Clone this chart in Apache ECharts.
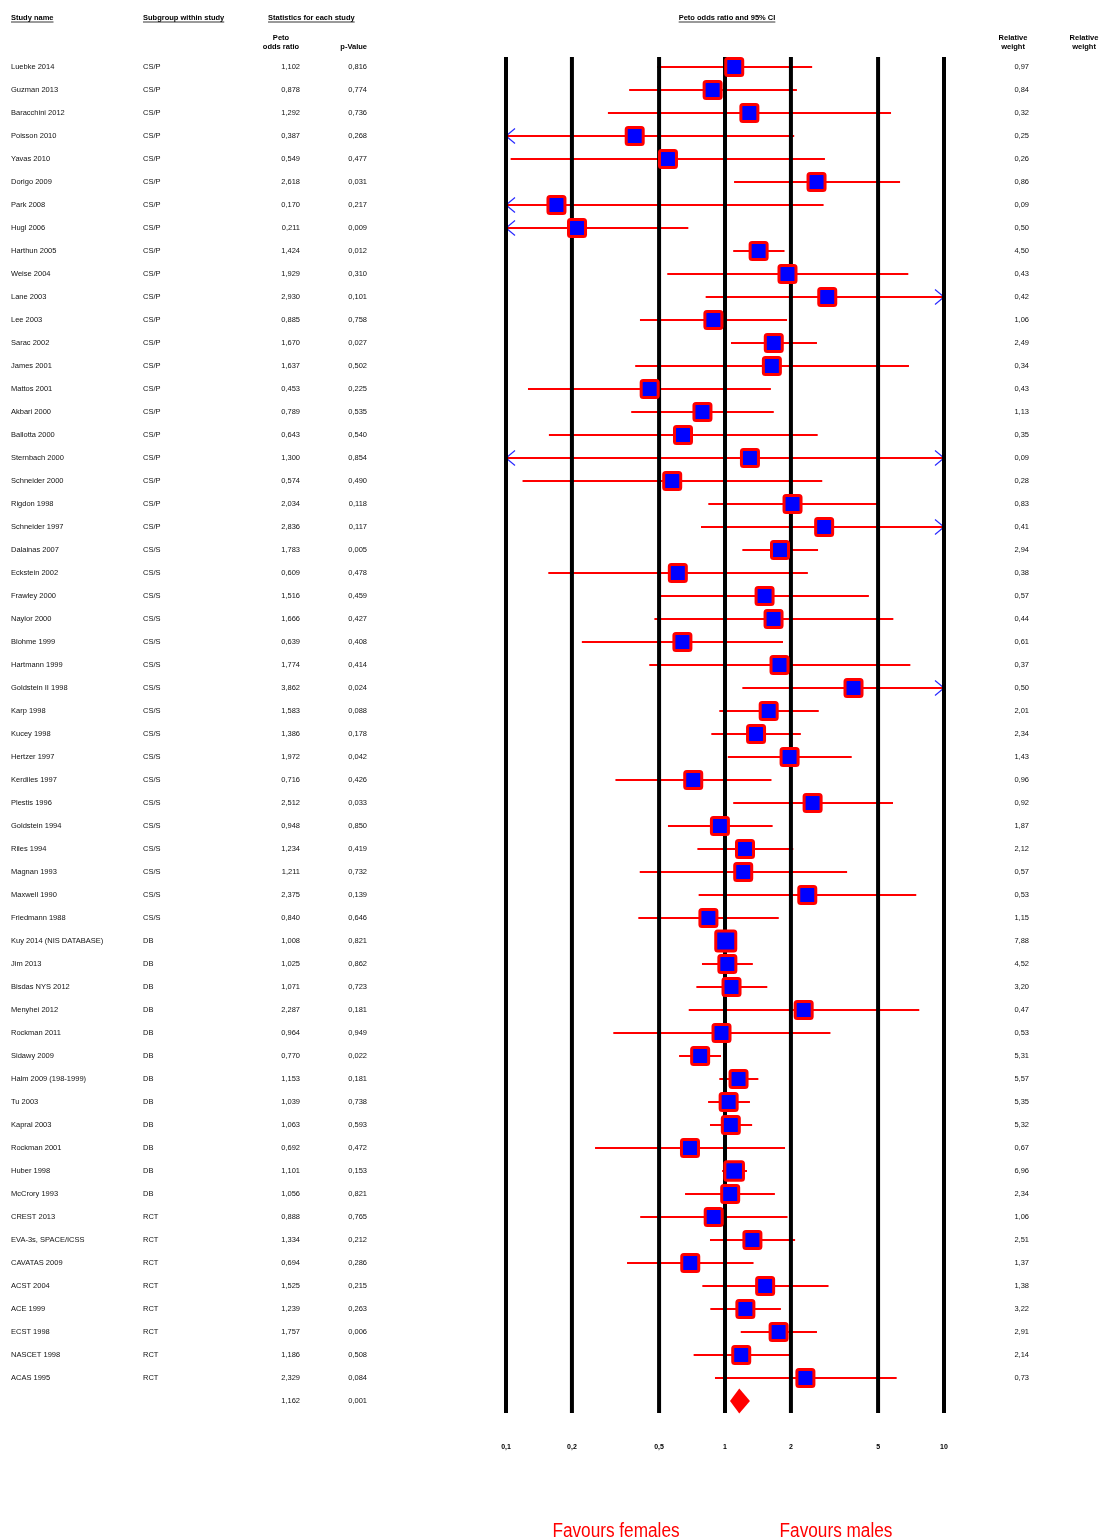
<!DOCTYPE html>
<html><head><meta charset="utf-8">
<script src="https://cdn.jsdelivr.net/npm/echarts@6/dist/echarts.min.js"></script>
<style>html,body{margin:0;padding:0;background:#fff}#c{width:1105px;height:1540px}</style>
</head><body><div id="c"></div>
<script>
const studies = ["Luebke 2014","Guzman 2013","Baracchini 2012","Poisson 2010","Yavas 2010","Dorigo 2009","Park 2008","Hugl 2006","Harthun 2005","Weise 2004","Lane 2003","Lee 2003","Sarac 2002","James 2001","Mattos 2001","Akbari 2000","Ballotta 2000","Sternbach 2000","Schneider 2000","Rigdon 1998","Schneider 1997","Dalainas 2007","Eckstein 2002","Frawley 2000","Naylor 2000","Blohme 1999","Hartmann 1999","Goldstein II 1998","Karp 1998","Kucey 1998","Hertzer 1997","Kerdiles 1997","Plestis 1996","Goldstein 1994","Riles 1994","Magnan 1993","Maxwell 1990","Friedmann 1988","Kuy 2014 (NIS DATABASE)","Jim 2013","Bisdas NYS 2012","Menyhei 2012","Rockman 2011","Sidawy 2009","Halm 2009 (198-1999)","Tu 2003","Kapral 2003","Rockman 2001","Huber 1998","McCrory 1993","CREST 2013","EVA-3s, SPACE/ICSS","CAVATAS 2009","ACST 2004","ACE 1999","ECST 1998","NASCET 1998","ACAS 1995"];
const subgroups = ["CS/P","CS/P","CS/P","CS/P","CS/P","CS/P","CS/P","CS/P","CS/P","CS/P","CS/P","CS/P","CS/P","CS/P","CS/P","CS/P","CS/P","CS/P","CS/P","CS/P","CS/P",
"CS/S","CS/S","CS/S","CS/S","CS/S","CS/S","CS/S","CS/S","CS/S","CS/S","CS/S","CS/S","CS/S","CS/S","CS/S","CS/S","CS/S",
"DB","DB","DB","DB","DB","DB","DB","DB","DB","DB","DB","DB",
"RCT","RCT","RCT","RCT","RCT","RCT","RCT","RCT"];
const orVals = [1.102,0.878,1.292,0.387,0.549,2.618,0.170,0.211,1.424,1.929,2.930,0.885,1.670,1.637,0.453,0.789,0.643,1.300,0.574,2.034,2.836,1.783,0.609,1.516,1.666,0.639,1.774,3.862,1.583,1.386,1.972,0.716,2.512,0.948,1.234,1.211,2.375,0.840,1.008,1.025,1.071,2.287,0.964,0.770,1.153,1.039,1.063,0.692,1.101,1.056,0.888,1.334,0.694,1.525,1.239,1.757,1.186,2.329];
const pVals = [0.816,0.774,0.736,0.268,0.477,0.031,0.217,0.009,0.012,0.310,0.101,0.758,0.027,0.502,0.225,0.535,0.540,0.854,0.490,0.118,0.117,0.005,0.478,0.459,0.427,0.408,0.414,0.024,0.088,0.178,0.042,0.426,0.033,0.850,0.419,0.732,0.139,0.646,0.821,0.862,0.723,0.181,0.949,0.022,0.181,0.738,0.593,0.472,0.153,0.821,0.765,0.212,0.286,0.215,0.263,0.006,0.508,0.084];
const lowCI = [0.49,0.365,0.292,0.072,0.105,1.10,0.010,0.066,1.09,0.545,0.816,0.409,1.065,0.389,0.126,0.373,0.157,0.079,0.119,0.839,0.777,1.20,0.156,0.507,0.476,0.222,0.451,1.20,0.942,0.866,1.03,0.316,1.09,0.549,0.748,0.408,0.758,0.402,0.94,0.785,0.740,0.683,0.309,0.617,0.942,0.837,0.854,0.255,0.97,0.657,0.410,0.854,0.357,0.788,0.857,1.18,0.719,0.900];
const highCI = [2.50,2.13,5.73,2.07,2.86,6.30,2.82,0.68,1.87,6.87,10.6,1.92,2.63,6.92,1.62,1.67,2.65,21.4,2.78,4.94,10.4,2.66,2.39,4.54,5.87,1.84,7.02,12.5,2.68,2.22,3.79,1.63,5.85,1.65,2.05,3.61,7.47,1.76,1.08,1.34,1.56,7.71,3.03,0.959,1.42,1.30,1.33,1.88,1.26,1.69,1.93,2.09,1.35,2.97,1.80,2.63,1.97,6.08];
const weights = [0.97,0.84,0.32,0.25,0.26,0.86,0.09,0.50,4.50,0.43,0.42,1.06,2.49,0.34,0.43,1.13,0.35,0.09,0.28,0.83,0.41,2.94,0.38,0.57,0.44,0.61,0.37,0.50,2.01,2.34,1.43,0.96,0.92,1.87,2.12,0.57,0.53,1.15,7.88,4.52,3.20,0.47,0.53,5.31,5.57,5.35,5.32,0.67,6.96,2.34,1.06,2.51,1.37,1.38,3.22,2.91,2.14,0.73];
const summaryOR = 1.162, summaryP = 0.001, summaryLow = 1.054, summaryHigh = 1.30;
const tickValues = [0.1, 0.2, 0.5, 1, 2, 5, 10];
const tickLabels = ["0,1", "0,2", "0,5", "1", "2", "5", "10"];

const FONT = '"Liberation Sans", Arial, Helvetica, sans-serif';
const SMALL = '7.5px ' + FONT;
const BOLD = 'bold 7.5px ' + FONT;
const nRows = studies.length;
const fmt3 = v => v.toFixed(3).replace('.', ',');
const fmt2 = v => v.toFixed(2).replace('.', ',');

const chart = echarts.init(document.getElementById('c'), null, {renderer: 'canvas'});

const measure = (txt, font) => { const c = document.createElement('canvas').getContext('2d'); c.font = font; return c.measureText(txt).width; };

function T(text, x, y, font, align, extra) {
  return Object.assign({type: 'text', x: x, y: y, silent: true,
    style: {text: text, x: 0, y: 0, font: font, fill: '#000', textAlign: align, align: align, textVerticalAlign: 'middle', verticalAlign: 'middle'}}, extra || {});
}
function U(text, x, y, font, align) {
  const w = measure(text, font);
  let x0 = align === 'center' ? x - w / 2 : (align === 'right' ? x - w : x);
  return {type: 'line', silent: true, shape: {x1: x0, y1: y + 4, x2: x0 + w, y2: y + 4}, style: {stroke: '#000', lineWidth: 0.8}};
}
const graphics = [
  T('Study name', 11, 18, BOLD, 'left'), U('Study name', 11, 18, BOLD, 'left'),
  T('Subgroup within study', 143, 18, BOLD, 'left'), U('Subgroup within study', 143, 18, BOLD, 'left'),
  T('Statistics for each study', 268, 18, BOLD, 'left'), U('Statistics for each study', 268, 18, BOLD, 'left'),
  T('Peto odds ratio and 95% CI', 727, 18, BOLD, 'center'), U('Peto odds ratio and 95% CI', 727, 18, BOLD, 'center'),
  T('Peto', 281, 38, BOLD, 'center'), T('odds ratio', 281, 47, BOLD, 'center'),
  T('p-Value', 367, 47, BOLD, 'right'),
  T('Relative', 1013, 38, BOLD, 'center'), T('weight', 1013, 47, BOLD, 'center'),
  T('Relative', 1084, 38, BOLD, 'center'), T('weight', 1084, 47, BOLD, 'center'),
  {type: 'text', x: 616, y: 1531, scaleX: 0.86, silent: true, style: {text: 'Favours females', x: 0, y: 0, font: '20px ' + FONT, fill: '#ff0000', textAlign: 'center', align: 'center', textVerticalAlign: 'middle', verticalAlign: 'middle'}},
  {type: 'text', x: 836, y: 1531, scaleX: 0.86, silent: true, style: {text: 'Favours males', x: 0, y: 0, font: '20px ' + FONT, fill: '#ff0000', textAlign: 'center', align: 'center', textVerticalAlign: 'middle', verticalAlign: 'middle'}}
];

const forestData = studies.map((s, i) => [orVals[i], i, lowCI[i], highCI[i], weights[i]]);
const textData = studies.map((s, i) => [1, i]).concat([[1, nRows]]);

function ciRender(params, api) {
  const cs = params.coordSys;
  const left = cs.x, right = cs.x + cs.width;
  const row = api.value(1);
  const y = api.coord([1, row])[1];
  let xl = api.coord([api.value(2), row])[0];
  let xr = api.coord([api.value(3), row])[0];
  const clipL = xl < left, clipR = xr > right;
  if (clipL) xl = left; if (clipR) xr = right;
  const kids = [{type: 'line', shape: {x1: xl, y1: y, x2: xr, y2: y}, style: {stroke: '#ff0000', lineWidth: 2}}];
  if (clipL) kids.push({type: 'polyline', shape: {points: [[left + 9, y - 7.5], [left, y], [left + 9, y + 7.5]]}, style: {stroke: '#2a2aff', lineWidth: 1.2, fill: null}});
  if (clipR) kids.push({type: 'polyline', shape: {points: [[right - 9, y - 7.5], [right, y], [right - 9, y + 7.5]]}, style: {stroke: '#2a2aff', lineWidth: 1.2, fill: null}});
  return {type: 'group', children: kids};
}
function boxRender(params, api) {
  const p = api.coord([api.value(0), api.value(1)]);
  const s = Math.max(20, 8.2 * Math.sqrt(api.value(4)));
  const d = s - 3;
  return {type: 'rect', shape: {x: p[0] - d / 2, y: p[1] - d / 2, width: d, height: d, r: 2}, style: {fill: '#0000ff', stroke: '#ff0000', lineWidth: 3}};
}
function gridRender(params, api) {
  const cs = params.coordSys;
  const x = api.coord([api.value(0), 0])[0];
  return {type: 'group', children: [
    {type: 'line', shape: {x1: x, y1: cs.y, x2: x, y2: cs.y + cs.height}, style: {stroke: '#000', lineWidth: 4}},
    {type: 'text', style: {text: tickLabels[params.dataIndex], x: x, y: cs.y + cs.height + 34, font: 'bold 7px ' + FONT, fill: '#000', align: 'center', textAlign: 'center', verticalAlign: 'middle', textVerticalAlign: 'middle'}}
  ]};
}
function textRender(params, api) {
  const i = params.dataIndex;
  const y = api.coord([1, api.value(1)])[1];
  const st = (t, x, a) => ({type: 'text', style: {text: t, x: x, y: y, font: SMALL, fill: '#111', align: a, textAlign: a, verticalAlign: 'middle', textVerticalAlign: 'middle'}});
  if (i === nRows) return {type: 'group', children: [st(fmt3(summaryOR), 300, 'right'), st(fmt3(summaryP), 367, 'right')]};
  return {type: 'group', children: [
    st(studies[i], 11, 'left'), st(subgroups[i], 143, 'left'),
    st(fmt3(orVals[i]), 300, 'right'), st(fmt3(pVals[i]), 367, 'right'),
    st(fmt2(weights[i]), 1029, 'right')
  ]};
}
function diamondRender(params, api) {
  const row = api.value(1);
  const c = api.coord([api.value(0), row]);
  const xl = api.coord([api.value(2), row])[0], xr = api.coord([api.value(3), row])[0];
  return {type: 'polygon', shape: {points: [[xl, c[1]], [c[0], c[1] - 12.5], [xr, c[1]], [c[0], c[1] + 12.5]]}, style: {fill: '#ff0000'}};
}

chart.setOption({
  animation: false,
  backgroundColor: '#ffffff',
  grid: {left: 506, top: 57, width: 438, height: 1356},
  xAxis: {type: 'log', min: 0.1, max: 10, show: false},
  yAxis: {type: 'value', inverse: true, min: -10 / 23, max: 58 + 12 / 23, show: false},
  graphic: graphics,
  series: [
    {type: 'custom', name: 'ci', renderItem: ciRender, data: forestData, encode: {x: 0, y: 1}, z: 2, silent: true},
    {type: 'custom', name: 'grid', renderItem: gridRender, data: tickValues.map(v => [v, 0]), encode: {x: 0, y: 1}, z: 3, silent: true},
    {type: 'custom', name: 'box', renderItem: boxRender, data: forestData, encode: {x: 0, y: 1}, z: 4, silent: true},
    {type: 'custom', name: 'summary', renderItem: diamondRender, data: [[summaryOR, nRows, summaryLow, summaryHigh]], encode: {x: 0, y: 1}, z: 4, silent: true},
    {type: 'custom', name: 'table', renderItem: textRender, data: textData, encode: {x: 0, y: 1}, z: 5, silent: true}
  ]
});
</script></body></html>
